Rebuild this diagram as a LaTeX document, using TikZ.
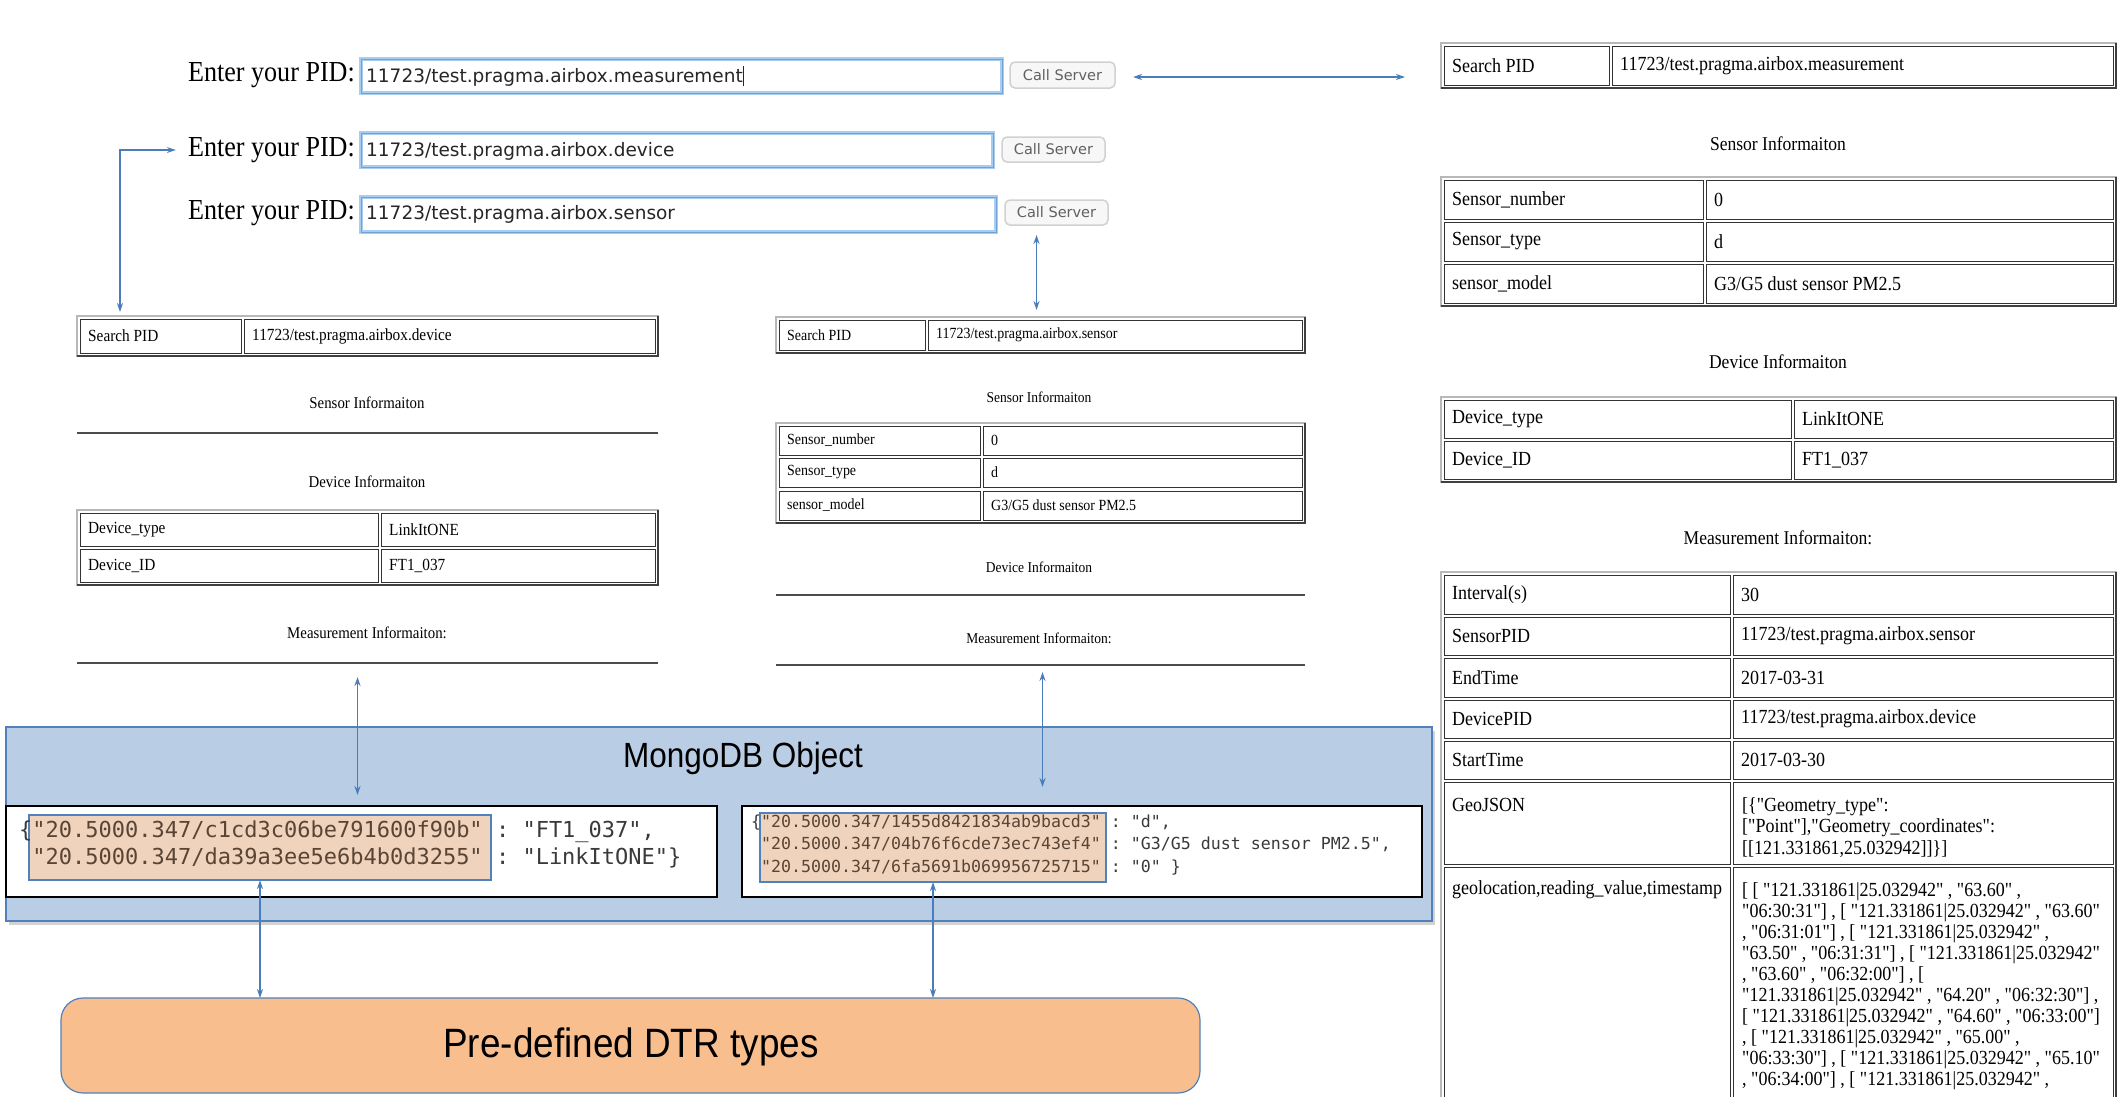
\documentclass[tikz,border=0pt]{standalone}
\usepackage{fontspec}
\newfontfamily\tms{Liberation Serif}[FakeStretch=0.9,Ligatures=TeXOff]
\newfontfamily\hel{Liberation Sans}[FakeStretch=0.9,Ligatures=TeXOff]
\newfontfamily\dvs{DejaVu Sans}[Ligatures=TeXOff]
\newfontfamily\dvm{DejaVu Sans Mono}[Ligatures=TeXOff]
\usetikzlibrary{arrows.meta,shadows,calc}
\definecolor{arrowblue}{HTML}{4A7EBB}
\definecolor{mongofill}{HTML}{B9CDE5}
\definecolor{boxline}{HTML}{4F81BD}
\definecolor{tanfill}{HTML}{EFD3BD}
\definecolor{dtrfill}{HTML}{F9BE8E}
\definecolor{fieldglow}{HTML}{A9CDEF}
\definecolor{fieldline}{HTML}{6FA3D8}
\definecolor{keytext}{HTML}{5A4535}
\definecolor{valtext}{HTML}{3A3A3A}
\tikzset{
  cellbox/.style={draw=black!80, line width=1pt, inner sep=0pt, outer sep=0pt, fill=white},
  outerbox/.style={draw=black!28, line width=1.6pt, inner sep=0pt, outer sep=0pt},
  hrule/.style={fill=black!70, draw=none},
  rtxt/.style={font=\tms\fontsize{20}{21.3}\selectfont},
  ltxt/.style={font=\tms\fontsize{17}{20}\selectfont},
  mtxt/.style={font=\tms\fontsize{15.5}{18}\selectfont},
  rhead/.style={font=\tms\fontsize{19.5}{22}\selectfont, inner sep=0pt},
  lhead/.style={font=\tms\fontsize{16.5}{19}\selectfont, inner sep=0pt},
  mhead/.style={font=\tms\fontsize{15}{18}\selectfont, inner sep=0pt},
  field/.style={draw=fieldglow, line width=4pt, fill=white, postaction={draw=fieldline, line width=0.9pt}},
  btn/.style={rounded corners=5pt, draw=black!18, line width=1.5pt, fill=black!3},
  btntxt/.style={text=black!62, font=\dvs\fontsize{14.5}{16}\selectfont, inner sep=0pt},
  fieldtxt/.style={font=\dvs\fontsize{18.5}{20}\selectfont, text=black!85, anchor=west, inner sep=0pt},
  plabel/.style={font=\tms\fontsize{29}{32}\selectfont, anchor=east, inner sep=0pt},
  link/.style={draw=arrowblue, line width=1.5pt, <->, >={Stealth[length=9pt,width=6pt]}},
  mongobox/.style={fill=mongofill, draw=boxline, line width=1.5pt,
    drop shadow={shadow xshift=3pt, shadow yshift=-4pt, opacity=0.35}},
  wbox/.style={fill=white, draw=black, line width=2.5pt},
  tanbox/.style={fill=tanfill, draw=boxline, line width=1.3pt},
  dtrbox/.style={fill=dtrfill, draw=boxline, line width=1.2pt, rounded corners=22pt},
  mongotxt/.style={font=\hel\fontsize{35}{40}\selectfont, inner sep=0pt},
  dtrtxt/.style={font=\hel\fontsize{41}{46}\selectfont, inner sep=0pt},
  lmono/.style={font=\dvm\fontsize{22}{24}\selectfont, text=valtext, anchor=west, inner sep=0pt},
  rmono/.style={font=\dvm\fontsize{16.6}{19}\selectfont, text=valtext, anchor=west, inner sep=0pt},
}
\newcommand\rbox[6]{%
  \pgfmathsetmacro\tcw{#5-#3}\pgfmathsetmacro\tch{#6-#4}%
  \node[#1, minimum width=\tcw pt, minimum height=\tch pt, inner sep=0pt, outer sep=0pt] (#2) at ({(#3+#5)/2},{(#4+#6)/2}) {};%
}
\newcommand\tframe[5]{%
  \pgfmathsetmacro\tcw{#4-#2}\pgfmathsetmacro\tch{#5-#3}%
  \node[outerbox, minimum width=\tcw pt, minimum height=\tch pt] (#1) at ({(#2+#4)/2},{(#3+#5)/2}) {};%
  \draw[black!75, line width=1.6pt] (#1.north east) -- (#1.south east) -- (#1.south west);%
}
\newcommand\tcell[7]{%
  \pgfmathsetmacro\tcw{#4-#2}\pgfmathsetmacro\tch{#5-#3}%
  \node[cellbox, minimum width=\tcw pt, minimum height=\tch pt] (#1) at ({(#2+#4)/2},{(#3+#5)/2}) {};%
  \node[#6, anchor=west, inner sep=0pt] (#1t) at ([xshift=8pt]#1.west) {#7};%
}
\begin{document}
\frenchspacing
\begin{tikzpicture}[x=1pt,y=-1pt]
\useasboundingbox (0,0) rectangle (2117,1096);
\clip (0,0) rectangle (2117,1096);
\fill[white] (0,0) rectangle (2117,1096);

% ---------- PID entry rows ----------
\node[plabel] (l1) at (355,75) {Enter your PID:};
\rbox{field}{f1}{361}{59}{1002}{93}
\node[fieldtxt] (f1t) at (366,76) {11723/test.pragma.airbox.measurement\rule[-0.22em]{1.2pt}{1.1em}};
\rbox{btn}{c1}{1010}{62}{1115}{88}
\node[btntxt] (c1t) at (c1) {Call Server};

\node[plabel] (l2) at (355,150) {Enter your PID:};
\rbox{field}{f2}{361}{133}{993}{167}
\node[fieldtxt] (f2t) at (366,151) {11723/test.pragma.airbox.device};
\rbox{btn}{c2}{1002}{137}{1105}{162}
\node[btntxt] (c2t) at (c2) {Call Server};

\node[plabel] (l3) at (355,213) {Enter your PID:};
\rbox{field}{f3}{361}{197}{996}{232}
\node[fieldtxt] (f3t) at (366,214) {11723/test.pragma.airbox.sensor};
\rbox{btn}{c3}{1005}{200}{1108}{225}
\node[btntxt] (c3t) at (c3) {Call Server};

% ---------- right column ----------
\tframe{rs}{1441}{43}{2116}{88}
\tcell{rs1}{1444}{46}{1609}{85}{rtxt}{Search PID}
\tcell{rs2}{1612}{46}{2113}{85}{rtxt}{11723/test.pragma.airbox.measurement}
\node[rhead] (rsh) at (1778,144) {Sensor Informaiton};
\tframe{rsen}{1441}{177}{2116}{306}
\tcell{rsen1a}{1444}{180}{1703}{219}{rtxt}{Sensor\_number}
\tcell{rsen1b}{1706}{180}{2113}{219}{rtxt}{0}
\tcell{rsen2a}{1444}{222}{1703}{261}{rtxt}{Sensor\_type}
\tcell{rsen2b}{1706}{222}{2113}{261}{rtxt}{d}
\tcell{rsen3a}{1444}{264}{1703}{303}{rtxt}{sensor\_model}
\tcell{rsen3b}{1706}{264}{2113}{303}{rtxt}{G3/G5 dust sensor PM2.5}
\node[rhead] (rdh) at (1778,362) {Device Informaiton};
\tframe{rdev}{1441}{397}{2116}{482}
\tcell{rdev1a}{1444}{400}{1791}{438}{rtxt}{Device\_type}
\tcell{rdev1b}{1794}{400}{2113}{438}{rtxt}{LinkItONE}
\tcell{rdev2a}{1444}{441}{1791}{479}{rtxt}{Device\_ID}
\tcell{rdev2b}{1794}{441}{2113}{479}{rtxt}{FT1\_037}
\node[rhead] (rmh) at (1778,538) {Measurement Informaiton:};
\tframe{rm}{1441}{572}{2116}{1112}
\tcell{rm1a}{1444}{575}{1730}{614}{rtxt}{Interval(s)}
\tcell{rm1b}{1733}{575}{2113}{614}{rtxt}{30}
\tcell{rm2a}{1444}{617}{1730}{655}{rtxt}{SensorPID}
\tcell{rm2b}{1733}{617}{2113}{655}{rtxt}{11723/test.pragma.airbox.sensor}
\tcell{rm3a}{1444}{658}{1730}{697}{rtxt}{EndTime}
\tcell{rm3b}{1733}{658}{2113}{697}{rtxt}{2017-03-31}
\tcell{rm4a}{1444}{700}{1730}{738}{rtxt}{DevicePID}
\tcell{rm4b}{1733}{700}{2113}{738}{rtxt}{11723/test.pragma.airbox.device}
\tcell{rm5a}{1444}{741}{1730}{779}{rtxt}{StartTime}
\tcell{rm5b}{1733}{741}{2113}{779}{rtxt}{2017-03-30}
\tcell{rm6a}{1444}{782}{1730}{864}{rtxt}{}
\tcell{rm6b}{1733}{782}{2113}{864}{rtxt}{}
\tcell{rm7a}{1444}{867}{1730}{1108}{rtxt}{}
\tcell{rm7b}{1733}{867}{2113}{1108}{rtxt}{}
\node[rtxt, anchor=west, inner sep=0pt] (rm6l) at (1452,805) {GeoJSON};
\node[font=\tms\fontsize{20}{21.5}\selectfont, anchor=north west, align=left, inner sep=0pt] (rm6v) at (1742,797)
  {[\{"Geometry\_type":\\{}["Point"],"Geometry\_coordinates":\\{}[[121.331861,25.032942]]\}]};
\node[rtxt, anchor=west, inner sep=0pt] (rm7l) at (1452,890) {geolocation,reading\_value,timestamp};
\node[font=\tms\fontsize{20}{21}\selectfont, anchor=north west, align=left, inner sep=0pt] (rm7v) at (1742,882)
  {{}[ [ "121.331861|25.032942" , "63.60" ,\\
   "06:30:31"] , [ "121.331861|25.032942" , "63.60"\\
   , "06:31:01"] , [ "121.331861|25.032942" ,\\
   "63.50" , "06:31:31"] , [ "121.331861|25.032942"\\
   , "63.60" , "06:32:00"] , [\\
   "121.331861|25.032942" , "64.20" , "06:32:30"] ,\\{}[ "121.331861|25.032942" , "64.60" , "06:33:00"]\\
   , [ "121.331861|25.032942" , "65.00" ,\\
   "06:33:30"] , [ "121.331861|25.032942" , "65.10"\\
   , "06:34:00"] , [ "121.331861|25.032942" ,};

% ---------- left column ----------
\tframe{ls}{77}{316}{658}{356}
\tcell{ls1}{80}{319}{241}{353}{ltxt}{Search PID}
\tcell{ls2}{244}{319}{655}{353}{ltxt}{11723/test.pragma.airbox.device}
\node[lhead] (lsh) at (367,403) {Sensor Informaiton};
\rbox{hrule}{lhr1}{77}{432}{658}{434}
\node[lhead] (ldh) at (367,482) {Device Informaiton};
\tframe{ld}{77}{510}{658}{585}
\tcell{ld1a}{80}{513}{378}{546}{ltxt}{Device\_type}
\tcell{ld1b}{381}{513}{655}{546}{ltxt}{LinkItONE}
\tcell{ld2a}{80}{549}{378}{582}{ltxt}{Device\_ID}
\tcell{ld2b}{381}{549}{655}{582}{ltxt}{FT1\_037}
\node[lhead] (lmh) at (367,633) {Measurement Informaiton:};
\rbox{hrule}{lhr2}{77}{662}{658}{664}

% ---------- middle column ----------
\tframe{ms}{776}{317}{1305}{353}
\tcell{ms1}{779}{320}{925}{350}{mtxt}{Search PID}
\tcell{ms2}{928}{320}{1302}{350}{mtxt}{11723/test.pragma.airbox.sensor}
\node[mhead] (msh) at (1039,397) {Sensor Informaiton};
\tframe{msen}{776}{423}{1305}{523}
\tcell{msen1a}{779}{426}{980}{455}{mtxt}{Sensor\_number}
\tcell{msen1b}{983}{426}{1302}{455}{mtxt}{0}
\tcell{msen2a}{779}{458}{980}{487}{mtxt}{Sensor\_type}
\tcell{msen2b}{983}{458}{1302}{487}{mtxt}{d}
\tcell{msen3a}{779}{491}{980}{520}{mtxt}{sensor\_model}
\tcell{msen3b}{983}{491}{1302}{520}{mtxt}{G3/G5 dust sensor PM2.5}
\node[mhead] (mdh) at (1039,567) {Device Informaiton};
\rbox{hrule}{mhr1}{776}{594}{1305}{596}
\node[mhead] (mmh) at (1039,638) {Measurement Informaiton:};
\rbox{hrule}{mhr2}{776}{664}{1305}{666}

% ---------- MongoDB object ----------
\rbox{mongobox}{mongo}{6}{727}{1432}{921}
\node[mongotxt] (mongot) at (743,758) {MongoDB Object};
\rbox{wbox}{lw}{6}{806}{717}{897}
\rbox{wbox}{rw}{742}{806}{1422}{897}
\rbox{tanbox}{ltan}{29}{815}{491}{880}
\rbox{tanbox}{rtan}{760}{813}{1106}{882}
\node[lmono] (lm1) at (19,832) {\{\textcolor{keytext}{"20.5000.347/c1cd3c06be791600f90b"} : "FT1\_037",};
\node[lmono] (lm2) at (19,858) {\phantom{\{}\textcolor{keytext}{"20.5000.347/da39a3ee5e6b4b0d3255"} : "LinkItONE"\}};
\node[rmono] (rm1) at (751,823) {\{\textcolor{keytext}{"20.5000.347/1455d8421834ab9bacd3"} : "d",};
\node[rmono] (rm2) at (751,845) {\phantom{\{}\textcolor{keytext}{"20.5000.347/04b76f6cde73ec743ef4"} : "G3/G5 dust sensor PM2.5",};
\node[rmono] (rm3) at (751,868) {\phantom{\{}\textcolor{keytext}{"20.5000.347/6fa5691b069956725715"} : "0" \}};

% ---------- DTR types ----------
\rbox{dtrbox}{dtr}{61}{998}{1200}{1093}
\node[dtrtxt] (dtrt) at (631,1047) {Pre-defined DTR types};

% ---------- connectors ----------
\draw[link] ($(c1.east)+(18,2)$) -- ($(c1.east -| rs.west)+(-36,2)$);
\draw[link] ($(ls.north west)+(43,-4)$) |- ($(l2.west)+(-12,0)$);
\draw[link] ($(c3.south -| ms.north)+(-4,10)$) -- ($(ms.north)+(-4,-7)$);
\draw[link] ($(lhr2.south -| lw.north)+(-4,13)$) -- ($(lw.north)+(-4,-11)$);
\draw[link] ($(mhr2.south)+(2,6)$) -- ($(mhr2.south |- rw.north)+(2,-19)$);
\draw[link] (ltan.south) -- (ltan.south |- dtr.north);
\draw[link] (rtan.south) -- (rtan.south |- dtr.north);
\end{tikzpicture}
\end{document}
